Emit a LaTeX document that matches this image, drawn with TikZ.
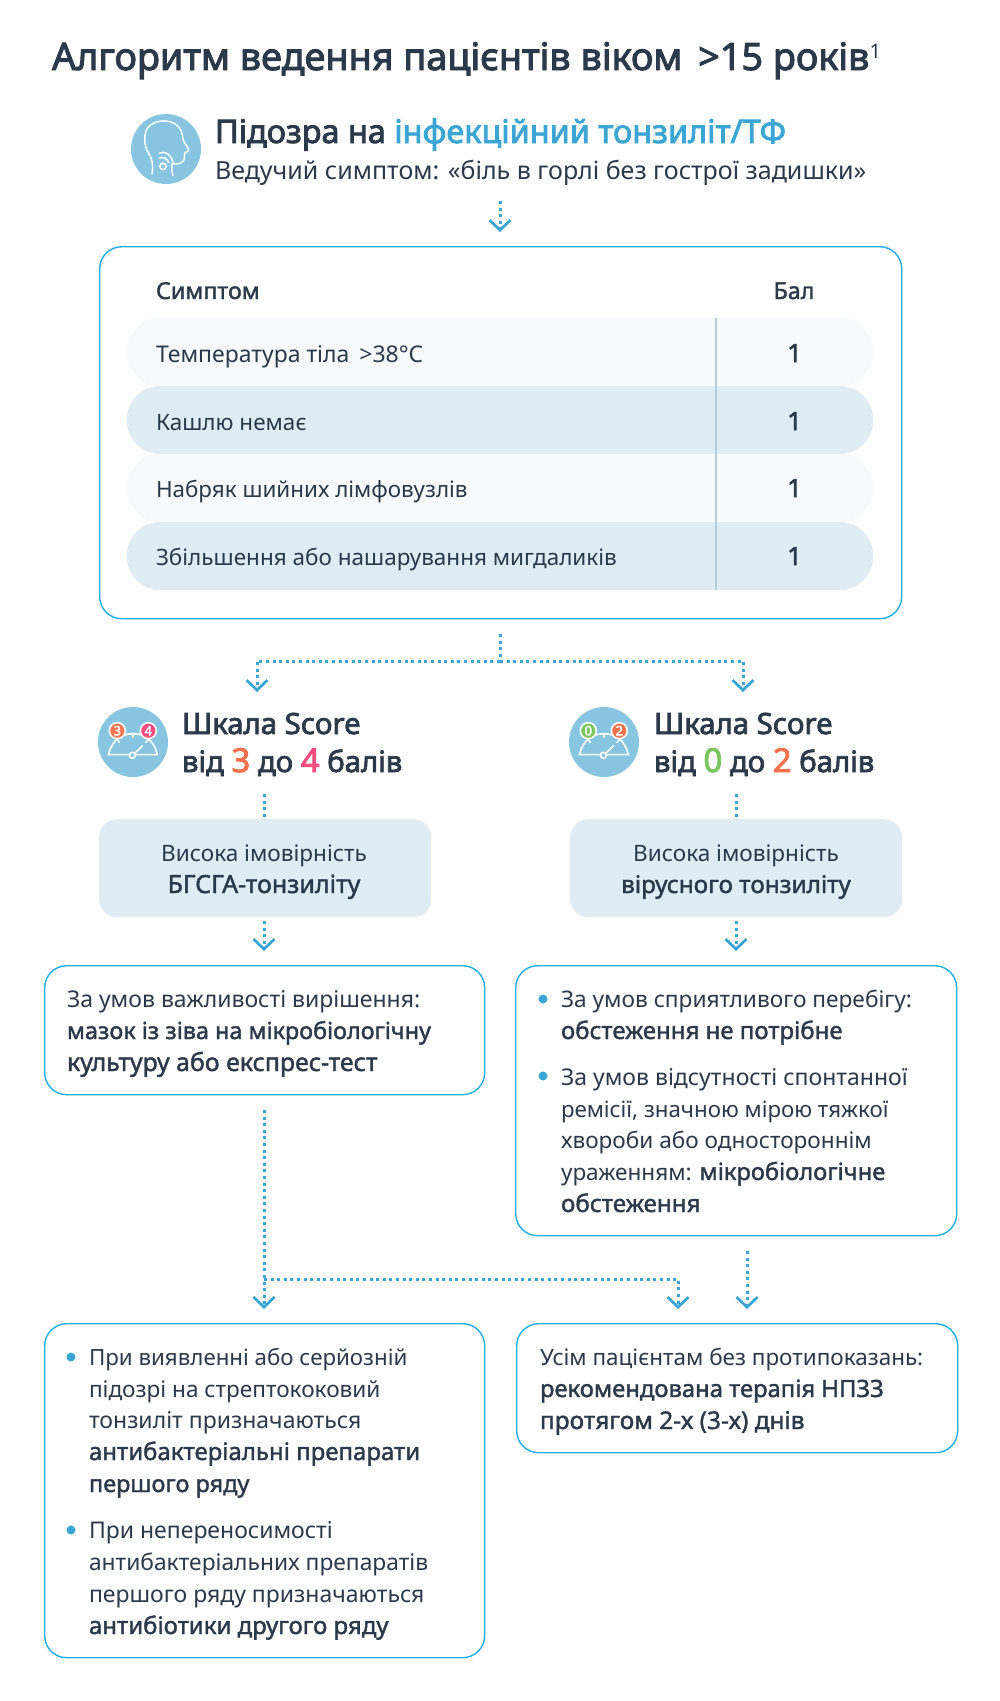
\documentclass[tikz,border=0pt]{standalone}
\usepackage{fontspec}
\setmainfont{Noto Sans}[AutoFakeBold=1.6]
\newfontfamily\heavy{Noto Sans}[FakeBold=2.6]
\usetikzlibrary{arrows.meta,calc}
\definecolor{ink}{HTML}{2B3A4A}
\definecolor{sky}{HTML}{3BA6D3}
\definecolor{edge}{HTML}{1FAEE6}
\definecolor{paleA}{HTML}{F6FAFB}
\definecolor{paleB}{HTML}{E0ECF3}
\definecolor{iconbg}{HTML}{88C5E0}
\definecolor{orng}{HTML}{F5724F}
\definecolor{pnk}{HTML}{F64C80}
\definecolor{grn}{HTML}{7AC55F}
\definecolor{rule}{HTML}{B5CDD8}
\newcommand{\fs}[2]{\fontsize{#1}{#2}\selectfont}
\newcommand{\bigd}[2]{\textcolor{#1}{\fontsize{33}{38}\selectfont #2}}
\tikzset{
  base/.style={inner sep=0pt,outer sep=0pt,text=ink},
  txt/.style={base,anchor=base west,font=\fs{#1}{32}},
  txt/.default=23,
  btxt/.style={base,anchor=base west,font=\fs{#1}{32}\bfseries},
  btxt/.default=24,
  cbox/.style={draw=edge,line width=1.4pt,rounded corners=22pt,fill=white,anchor=north west,inner sep=0pt},
  pale/.style={fill=paleB,rounded corners=18pt,anchor=north west,inner sep=0pt},
  rowa/.style={fill=paleA,rounded corners=33pt,minimum width=746pt,minimum height=68pt,inner sep=0pt},
  rowb/.style={rowa,fill=paleB},
  dots/.style={draw=sky,line width=3pt,dash pattern=on 3pt off 3.6pt},
  arr/.style={dots,-{Straight Barb[length=10pt,width=21pt,line width=2.8pt,sep=0pt]}},
  bul/.style={fill=sky,circle,inner sep=0pt,minimum size=9pt},
  ico/.style={fill=iconbg,circle,inner sep=0pt,minimum size=70pt},
  sc/.style={base,anchor=base west,font=\fs{29.3}{38}\heavy},
  badge/.style={circle,draw=white,line width=1.6pt,minimum size=16pt,inner sep=0pt,text=white,font=\fs{13}{13}\heavy},
}
\newcommand{\gauge}[6]{%
  \begin{scope}[shift={(#1)},x=0.3333pt,y=-0.3333pt,white,line width=1.6pt,line cap=round]
    \draw (-8,38) -- (-74,38) .. controls (-62,-10) and (-30,-25) .. (0,-25) .. controls (30,-25) and (62,-10) .. (73,38) -- (8,38);
    \draw (-47,-7) -- (-41,1) (46,-7) -- (39,1) (0,-25) -- (0,-15);
    \draw (-2,40) circle (3pt);
    \draw (5,34) -- (29,11);
    \draw (-25,-22) -- (22,-22);
    \node[badge,fill=#2] (#6l) at (-47,-34) {#3};
    \node[badge,fill=#4] (#6r) at (46,-34) {#5};
  \end{scope}}
\begin{document}
\begin{tikzpicture}[x=1pt,y=-1pt]
\useasboundingbox (0,0) rectangle (1000,1701);
% title
\node[base,anchor=base west,font=\fs{37.8}{40}\heavy] (title) at (52,70) {Алгоритм ведення пацієнтів віком\hspace{6pt} >15 років\raisebox{12pt}{\fontsize{20}{20}\selectfont\normalfont\fontsize{20}{20}\selectfont 1}};
% head icon
\node[ico] (headicon) at (166,149) {};
\begin{scope}[shift={(100,90)},x=0.3333pt,y=-0.3333pt,white,line width=1.5pt,line cap=round,line join=round]
  \draw (156,252) .. controls (160,225) and (158,210) .. (146,190) .. controls (130,165) and (132,130) .. (142,115) .. controls (160,90) and (200,88) .. (222,100) .. controls (243,112) and (248,130) .. (249,148) .. controls (252,160) and (268,175) .. (266,182) .. controls (262,186) and (256,186) .. (254,190) .. controls (252,200) and (256,212) .. (244,218) .. controls (235,224) and (222,220) .. (216,222) .. controls (214,232) and (216,245) .. (219,257);
  \draw (189,229) circle (3.2pt);
  \draw (178,205) .. controls (188,198) and (202,205) .. (206,218);
  \draw (178,190) .. controls (195,180) and (215,195) .. (219,218);
\end{scope}
% heading
\node[base,anchor=base west,font=\fs{32.4}{36}\heavy] (susp) at (215,143) {Підозра на \textcolor{sky}{інфекційний тонзиліт/ТФ}};
\node[base,anchor=base west,font=\fs{25}{32}] (lead) at (215,179) {Ведучий симптом: «біль в горлі без гострої задишки»};
% main table
\node[cbox,minimum width=802pt,minimum height=372pt] (table) at (99,246) {};
\node[rowa] (r1) at (500,352) {};
\node[rowb] (r2) at (500,420) {};
\node[rowa] (r3) at (500,488) {};
\node[rowb] (r4) at (500,556) {};
\draw[rule,line width=1.3pt] (r1.north -| 716,0) -- (r4.south -| 716,0);
\node[btxt=23.3] (hs) at (156,299) {Симптом};
\node[base,anchor=base,font=\fs{23.3}{30}\bfseries] (hb) at (794,299) {Бал};
\node[txt=23] (t1) at (156,362) {Температура тіла\hspace{4pt} >38°C};
\node[txt=22.5] (t2) at (156,430) {Кашлю немає};
\node[txt=22.4] (t3) at (156,497) {Набряк шийних лімфовузлів};
\node[txt=22.5] (t4) at (156,565) {Збільшення або нашарування мигдаликів};
\foreach \i/\y in {1/362,2/430,3/497,4/565}
  \node[base,anchor=base,font=\fs{25}{30}\heavy] (p\i) at (794.5,\y) {1};
% score left
\node[ico] (gl) at (133,742) {};
\gauge{gl}{orng}{3}{pnk}{4}{gla}
\node[sc] (s1a) at (182,734) {Шкала Score};
\node[sc] (s1b) at (182,772) {від \bigd{orng}{3} до \bigd{pnk}{4} балів};
% score right
\node[ico] (gr) at (604,742) {};
\gauge{gr}{grn}{0}{orng}{2}{gra}
\node[sc] (s2a) at (654,734) {Шкала Score};
\node[sc] (s2b) at (654,772) {від \bigd{grn}{0} до \bigd{orng}{2} балів};
% pale boxes
\node[pale,minimum width=332pt,minimum height=98pt] (pl) at (99,819) {};
\node[pale,minimum width=332pt,minimum height=98pt] (pr) at (570,819) {};
\node[base,anchor=base,font=\fs{22.6}{32}] (pl1) at (264,861) {Висока імовірність};
\node[base,anchor=base,font=\fs{25}{32}\bfseries] (pl2) at (264,893) {БГСГА-тонзиліту};
\node[base,anchor=base,font=\fs{22.6}{32}] (pr1) at (736,861) {Висока імовірність};
\node[base,anchor=base,font=\fs{24.3}{32}\bfseries] (pr2) at (736,893) {вірусного тонзиліту};
% box A
\node[cbox,minimum width=440pt,minimum height=129pt] (ba) at (44,965) {};
\node[txt] (a1) at (67,1007) {За умов важливості вирішення:};
\node[btxt=23.4] (a2) at (67,1039) {мазок із зіва на мікробіологічну};
\node[btxt=24.9] (a3) at (67,1071) {культуру або експрес-тест};
% box B
\node[cbox,minimum width=441pt,minimum height=270pt] (bb) at (515,965) {};
\node[bul] (bb1) at (543,999) {};
\node[bul] (bb2) at (543,1076) {};
\node[txt=22.7] (b1) at (561,1007) {За умов сприятливого перебігу:};
\node[btxt] (b2) at (561,1039) {обстеження не потрібне};
\node[txt] (b3) at (561,1085) {За умов відсутності спонтанної};
\node[txt=22.3] (b4) at (561,1117) {ремісії, значною мірою тяжкої};
\node[txt=22.6] (b5) at (561,1148) {хвороби або одностороннім};
\node[txt=22.6] (b6) at (561,1180) {ураженням: {\fontsize{23.7}{32}\selectfont\bfseries мікробіологічне}};
\node[btxt=24.2] (b7) at (561,1212) {обстеження};
% box C
\node[cbox,minimum width=440pt,minimum height=334pt] (bc) at (44,1323) {};
\node[bul] (bc1) at (71,1357) {};
\node[bul] (bc2) at (71,1530) {};
\node[txt=22.3] (c1) at (89,1365) {При виявленні або серйозній};
\node[txt=22.6] (c2) at (89,1397) {підозрі на стрептококовий};
\node[txt] (c3) at (89,1428) {тонзиліт призначаються};
\node[btxt] (c4) at (89,1460) {антибактеріальні препарати};
\node[btxt=23.5] (c5) at (89,1492) {першого ряду};
\node[txt] (c6) at (89,1538) {При непереносимості};
\node[txt=22.8] (c7) at (89,1570) {антибактеріальних препаратів};
\node[txt] (c8) at (89,1602) {першого ряду призначаються};
\node[btxt] (c9) at (89,1634) {антибіотики другого ряду};
% box D
\node[cbox,minimum width=441pt,minimum height=129pt] (bd) at (516,1323) {};
\node[txt=22.5] (d1) at (540,1365) {Усім пацієнтам без протипоказань:};
\node[btxt=23.8] (d2) at (540,1397) {рекомендована терапія НПЗЗ};
\node[btxt=24.4] (d3) at (540,1429) {протягом 2-х (3-х) днів};
% connectors
\coordinate (c0a) at (500,201); \coordinate (c0b) at (500,232);
\draw[arr] (c0a) -- (c0b);
\coordinate (c1a) at (500,634); \coordinate (c1m) at (500,661);
\coordinate (c1l) at (257,692); \coordinate (c1r) at (743,692);
\draw[dots] (c1a) -- (c1m);
\draw[arr] (c1m) -| (c1l);
\draw[arr] (c1m) -| (c1r);
\coordinate (c2l) at (264,794); \coordinate (c2r) at (736,794);
\draw[dots] (c2l) -- (pl.north -| c2l);
\draw[dots] (c2r) -- (pr.north -| c2r);
\coordinate (c3l) at (264,921); \coordinate (c3le) at (264,951);
\coordinate (c3r) at (736,921); \coordinate (c3re) at (736,951);
\draw[arr] (c3l) -- (c3le);
\draw[arr] (c3r) -- (c3re);
\coordinate (c4a) at (264,1110); \coordinate (c4m) at (264,1279);
\coordinate (c4e) at (264,1309); \coordinate (c4f) at (678,1309);
\draw[arr] (c4a) -- (c4e);
\draw[arr] (c4m) -| (c4f);
\coordinate (c5a) at (747,1251); \coordinate (c5e) at (747,1309);
\draw[arr] (c5a) -- (c5e);
\end{tikzpicture}
\end{document}
